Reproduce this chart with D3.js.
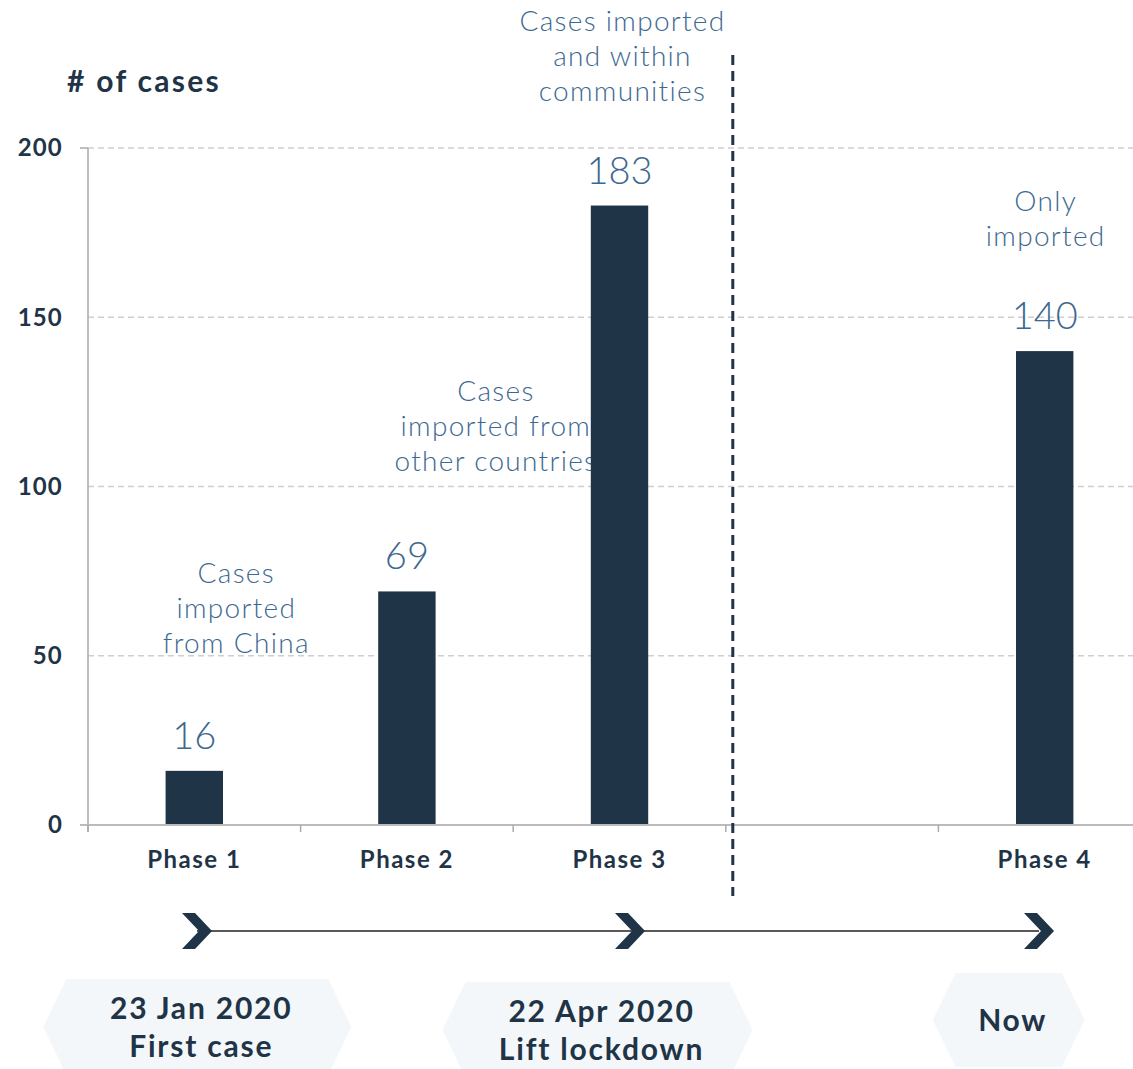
<!DOCTYPE html>
<html lang='en'>
<head>
<meta charset='utf-8'>
<title>Cases by phase</title>
<script src='https://cdn.jsdelivr.net/npm/d3@7/dist/d3.min.js'></script>
<style>
  body { margin: 0; background: #fff; }
  text { font-family: Lato, 'Open Sans', sans-serif; }
</style>
</head>
<body>
<script>
// data
var slots = ['Phase 1', 'Phase 2', 'Phase 3', '', 'Phase 4'];
var phases = ['Phase 1', 'Phase 2', 'Phase 3', 'Phase 4'];
var cases = [16, 69, 183, 140];
var yTicks = [0, 50, 100, 150, 200];
var notes = [
  ['Cases', 'imported', 'from China'],
  ['Cases', 'imported from', 'other countries'],
  ['Cases imported', 'and within', 'communities'],
  ['Only', 'imported']
];
var milestones = [['23 Jan 2020', 'First case'], ['22 Apr 2020', 'Lift lockdown'], ['Now']];
var milestonePhase = ['Phase 1', 'Phase 3', 'Phase 4'];

// layout
var W = 1133, H = 1069;
var dark = '#1f3447', blue = '#3d6890';
var noteDx = [42, 89, 3, 1], noteY = [583, 401, 31, 211];
var boxDx = [3, -22, -36], boxY = [1027, 1030, 1020], boxHalfW = [154, 155, 76], boxHalfH = [48, 48, 47];

var svg = d3.select('body').append('svg').attr('width', W).attr('height', H);

var x = d3.scaleBand().domain(slots).range([88, 88 + 5 * 212.6]).padding(0);
var y = d3.scaleLinear().domain([0, 200]).range([825, 148]);
var bw = x.bandwidth() * 0.27;
var cx = function(s) { return x(s) + x.bandwidth() / 2; };

// gridlines
svg.selectAll('.grid').data(yTicks.filter(d => d > 0)).enter().append('line')
  .attr('x1', 88).attr('x2', W).attr('y1', d => y(d)).attr('y2', d => y(d))
  .attr('stroke', '#cfcfcf').attr('stroke-width', 1.3).attr('stroke-dasharray', '6,4');

// y axis
svg.append('line').attr('x1', 88).attr('x2', 88).attr('y1', y(200)).attr('y2', y(0) + 7)
  .attr('stroke', '#aaa').attr('stroke-width', 1.5);
svg.append('line').attr('x1', 80).attr('x2', 88).attr('y1', y(200)).attr('y2', y(200))
  .attr('stroke', '#aaa').attr('stroke-width', 1.5);
svg.selectAll('.ylab').data(yTicks).enter().append('text')
  .attr('x', 63).attr('y', d => y(d)).attr('dy', '0.35em').attr('text-anchor', 'end')
  .attr('font-size', 24).attr('font-weight', 700).attr('letter-spacing', 1.2).attr('fill', dark).text(d => d);
svg.append('text').attr('x', 67).attr('y', 92).attr('font-size', 30).attr('font-weight', 700)
  .attr('letter-spacing', 2.3).attr('fill', dark).text('# of cases');

// annotations (under the bars)
notes.forEach(function(lines, i) {
  var t = svg.append('text').attr('text-anchor', 'middle').attr('font-size', 28)
    .attr('font-weight', 300).attr('letter-spacing', 1.3).attr('fill', blue);
  lines.forEach(function(l, j) {
    t.append('tspan').attr('x', cx(phases[i]) + noteDx[i]).attr('y', noteY[i] + j * 35).text(l);
  });
});

// bars
svg.selectAll('.bar').data(phases).enter().append('rect')
  .attr('x', d => cx(d) - bw / 2).attr('width', bw)
  .attr('y', (d, i) => y(cases[i])).attr('height', (d, i) => y(0) - y(cases[i]))
  .attr('fill', dark);
svg.selectAll('.val').data(phases).enter().append('text')
  .attr('x', d => cx(d)).attr('y', (d, i) => y(cases[i]) - 22).attr('text-anchor', 'middle')
  .attr('font-size', 38).attr('font-weight', 300).attr('fill', blue).text((d, i) => cases[i]);

// x axis
svg.append('line').attr('x1', 80).attr('x2', W).attr('y1', y(0)).attr('y2', y(0))
  .attr('stroke', '#bbb').attr('stroke-width', 2);
svg.selectAll('.xt').data(slots).enter().append('line')
  .attr('x1', d => x(d)).attr('x2', d => x(d)).attr('y1', y(0)).attr('y2', y(0) + 7)
  .attr('stroke', '#aaa').attr('stroke-width', 1.5);
svg.selectAll('.xl').data(phases).enter().append('text')
  .attr('x', d => cx(d)).attr('y', 868).attr('text-anchor', 'middle')
  .attr('font-size', 24).attr('font-weight', 700).attr('letter-spacing', 1.5).attr('fill', dark).text(d => d);

// divider
svg.append('line').attr('x1', x('') + 7).attr('x2', x('') + 7).attr('y1', 55).attr('y2', 896)
  .attr('stroke', dark).attr('stroke-width', 3).attr('stroke-dasharray', '10,6');

// timeline
var chevX = [197, 630, 1039];
svg.append('line').attr('x1', chevX[0]).attr('x2', chevX[2]).attr('y1', 931).attr('y2', 931)
  .attr('stroke', '#222').attr('stroke-width', 1.5);
svg.selectAll('.chev').data(chevX).enter().append('path')
  .attr('d', d => 'M' + (d - 15) + ',913 L' + (d - 2) + ',913 L' + (d + 15) + ',931 L' + (d - 2) + ',949 L' + (d - 15) + ',949 L' + (d + 2) + ',931 Z')
  .attr('fill', dark);

// milestone boxes
milestones.forEach(function(lines, i) {
  var mx = cx(milestonePhase[i]) + boxDx[i], my = boxY[i], hw = boxHalfW[i], hh = boxHalfH[i];
  var pts = [[mx - hw, my], [mx - hw + 23, my - hh], [mx + hw - 23, my - hh], [mx + hw, my], [mx + hw - 23, my + hh], [mx - hw + 23, my + hh]];
  svg.append('polygon').attr('points', pts.map(p => p.join(',')).join(' ')).attr('fill', '#f3f7f9');
  var t = svg.append('text').attr('text-anchor', 'middle').attr('font-size', 30)
    .attr('font-weight', 700).attr('letter-spacing', 1.8).attr('fill', dark);
  var y0 = my - (lines.length - 1) * 19;
  lines.forEach(function(l, j) {
    t.append('tspan').attr('x', mx + 4).attr('y', y0 + j * 38).attr('dy', '0.35em').text(l);
  });
});
</script>
</body>
</html>
